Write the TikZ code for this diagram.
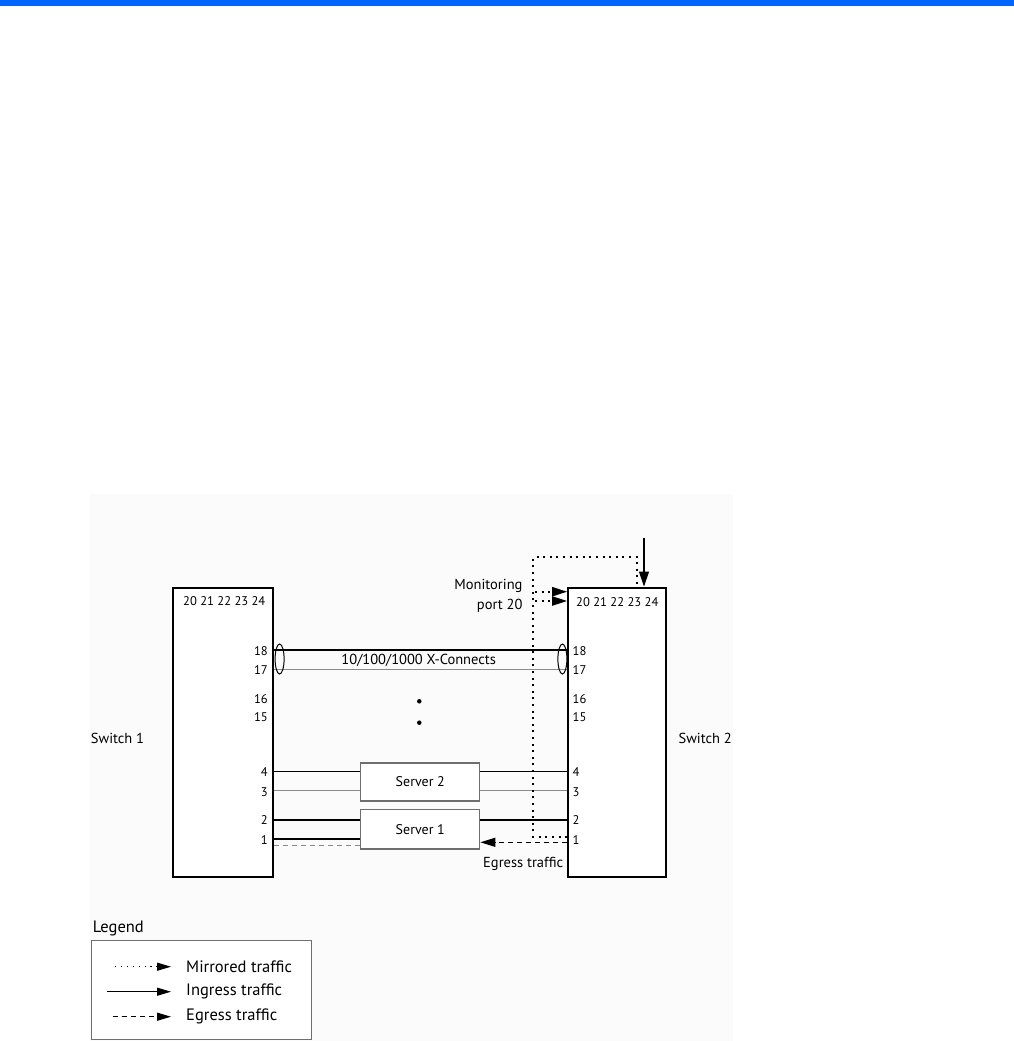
\documentclass[tikz,border=0pt]{standalone}
\usepackage{fontspec}
\setmainfont{PT Sans}
\usetikzlibrary{arrows.meta,shapes.geometric}
\definecolor{barblue}{HTML}{0066FF}
\definecolor{panel}{HTML}{FBFBFB}
\definecolor{wiregray}{HTML}{8A8A8A}
\definecolor{boxgray}{HTML}{6E6E6E}
\tikzset{
  switchbox/.style={draw, line width=2pt, fill=white, inner sep=0pt, minimum height=289pt},
  serverbox/.style={draw=boxgray, line width=1.1pt, fill=white, inner sep=0pt, minimum width=119pt, font=\fontsize{14}{16}\selectfont},
  portlbl/.style={inner sep=0pt, font=\fontsize{12.6}{15}\selectfont},
  txt/.style={inner sep=0pt, font=\fontsize{14.5}{17}\selectfont},
  legtxt/.style={inner sep=0pt, font=\fontsize{16.5}{19}\selectfont},
  wire/.style={line width=1.1pt},
  graywire/.style={line width=1.3pt, draw=wiregray},
  mirror/.style={line width=2pt, dash pattern=on 2pt off 4.6pt},
  egress/.style={line width=1.2pt, dash pattern=on 5pt off 4pt},
  tip/.style={-{Triangle[length=15pt,width=9pt]}},
  bundle/.style={ellipse, draw, line width=1pt, minimum width=9pt, minimum height=30pt, inner sep=0pt},
  dotnode/.style={circle, fill, inner sep=0pt, minimum size=4.5pt}
}
\begin{document}
\begin{tikzpicture}[x=1pt,y=-1pt]
\useasboundingbox (0,0) rectangle (1014,1041);
\fill[white] (0,0) rectangle (1014,1041);
\fill[barblue] (0,0) rectangle (1014,5.6);
\fill[panel] (90,494) rectangle (732.5,1041);

% switches
\node[switchbox, minimum width=100pt] (s1) at (223.3,732) {};
\node[switchbox, minimum width=98pt] (s2) at (617.2,732) {};

% servers
\node[serverbox, minimum height=38pt] (sv2) at (420.3,782) {Server 2};
\node[serverbox, minimum height=39.5pt] (sv1) at (420.3,829.2) {Server 1};

% port labels switch 1
\node[portlbl] (a24) at (224.3,600.7) {20 21 22 23 24};
\node[portlbl, anchor=east] (a18) at (268,650.7) {18};
\node[portlbl, anchor=east] (a17) at (268,670) {17};
\node[portlbl, anchor=east] (a16) at (268,699) {16};
\node[portlbl, anchor=east] (a15) at (268,717) {15};
\node[portlbl, anchor=east] (a4) at (268,772) {4};
\node[portlbl, anchor=east] (a3) at (268,792) {3};
\node[portlbl, anchor=east] (a2) at (268,820) {2};
\node[portlbl, anchor=east] (a1) at (268,840) {1};

% port labels switch 2
\node[portlbl] (b24) at (617.3,601.7) {20 21 22 23 24};
\node[portlbl, anchor=west] (b18) at (572.5,650.7) {18};
\node[portlbl, anchor=west] (b17) at (572.5,670) {17};
\node[portlbl, anchor=west] (b16) at (572.5,699) {16};
\node[portlbl, anchor=west] (b15) at (572.5,717) {15};
\node[portlbl, anchor=west] (b4) at (572.5,772) {4};
\node[portlbl, anchor=west] (b3) at (572.5,792) {3};
\node[portlbl, anchor=west] (b2) at (572.5,820) {2};
\node[portlbl, anchor=west] (b1) at (572.5,840) {1};

% X-connects
\coordinate (y18) at (0,650);
\coordinate (y17) at (0,669.3);
\draw[wire] (s1.east |- y18) -- (s2.west |- y18);
\draw[graywire] (s1.east |- y17) -- (s2.west |- y17);
\node[bundle] (e1) at (279.6,659) {};
\node[bundle] (e2) at (562.4,659) {};
\node[txt] (xc) at (418.7,660.5) {10/100/1000 X-Connects};
\node[dotnode] (d1) at (419.3,701.3) {};
\node[dotnode] (d2) at (419.3,722.7) {};

% server wiring
\coordinate (y4) at (0,771.7);
\coordinate (y3) at (0,790.7);
\coordinate (y2) at (0,820);
\coordinate (y1) at (0,838.7);
\coordinate (y1d) at (0,845.7);
\coordinate (yeg) at (0,842.3);
\draw[wire] (s1.east |- y4) -- (sv2.west |- y4);
\draw[wire] (sv2.east |- y4) -- (s2.west |- y4);
\draw[graywire] (s1.east |- y3) -- (sv2.west |- y3);
\draw[graywire] (sv2.east |- y3) -- (s2.west |- y3);
\draw[wire] (s1.east |- y2) -- (sv1.west |- y2);
\draw[wire] (sv1.east |- y2) -- (s2.west |- y2);
\draw[line width=1.6pt] (s1.east |- y1) -- (sv1.west |- y1);
\draw[egress, draw=wiregray] (s1.east |- y1d) -- (sv1.west |- y1d);
\draw[egress, tip] (s2.west |- yeg) -- (sv1.east |- yeg);

% mirrored traffic
\coordinate (mc1) at (533.3,557.3);
\coordinate (mc2) at (637.3,557.3);
\coordinate (ym) at (0,837);
\draw[mirror] (s2.west |- ym) -| (mc1) -- (mc2) -- (mc2 |- s2.north);
\coordinate (ma) at (535,591.7);
\coordinate (mb) at (535,601);
\draw[mirror, tip] (ma) -- (s2.west |- ma);
\draw[mirror, tip] (mb) -- (s2.west |- mb);

% ingress into port 24
\coordinate (tin) at (644,537.5);
\draw[wire, -{Triangle[length=15pt,width=10pt]}] (tin) -- (tin |- s2.north);

% texts
\node[txt, anchor=east, align=right, font=\fontsize{14.5}{19.7}\selectfont] (mon) at (522.7,595.8) {Monitoring\\port 20};
\node[txt, anchor=west] (sw1) at (90.7,738) {Switch 1};
\node[txt, anchor=east] (sw2) at (732,738) {Switch 2};
\node[txt, anchor=west] (egl) at (483,864) {Egress traffic};

% legend
\node[legtxt, anchor=west] (lg) at (92.7,928) {Legend};
\node[draw=boxgray, line width=1pt, fill=white, minimum width=220pt, minimum height=99pt, inner sep=0pt] (lbox) at (201.9,990.4) {};
\node[legtxt, anchor=west] (lt1) at (186,966.7) {Mirrored traffic};
\node[legtxt, anchor=west] (lt2) at (186,991.7) {Ingress traffic};
\node[legtxt, anchor=west] (lt3) at (186,1016.7) {Egress traffic};
\coordinate (la1) at (115,966.7);
\coordinate (la2) at (106.7,991.7);
\coordinate (la3) at (112.7,1016.7);
\coordinate (ltip) at (171,0);
\draw[line width=1.3pt, dash pattern=on 1.3pt off 4.6pt, -{Triangle[length=14pt,width=8pt]}] (la1) -- (ltip |- la1);
\draw[line width=1.2pt, -{Triangle[length=14pt,width=8pt]}] (la2) -- (ltip |- la2);
\draw[line width=1.2pt, dash pattern=on 5pt off 4pt, -{Triangle[length=14pt,width=8pt]}] (la3) -- (ltip |- la3);
\end{tikzpicture}
\end{document}
